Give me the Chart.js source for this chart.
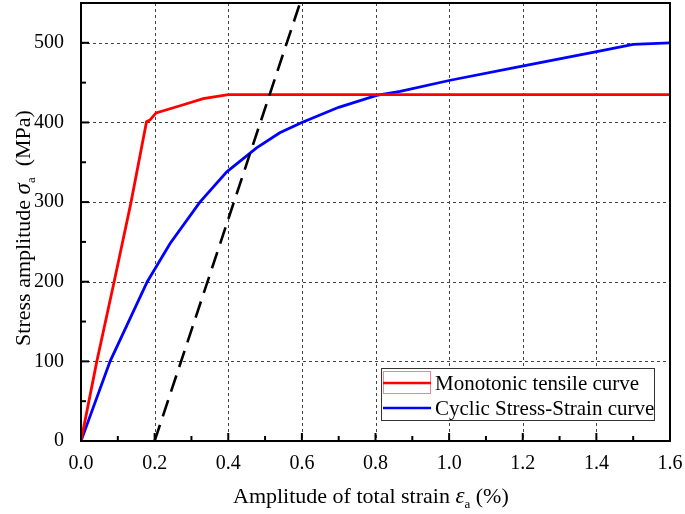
<!DOCTYPE html>
<html>
<head>
<meta charset="utf-8">
<script src="https://cdn.jsdelivr.net/npm/chart.js@4"></script>
<style>
  html, body { margin: 0; padding: 0; background: #fff; }
  #wrap { width: 685px; height: 514px; }
</style>
</head>
<body>
<div id="wrap"><canvas id="chart"></canvas></div>
<script>
// monotonic tensile curve
const monoX = [0, 0.043, 0.090, 0.136, 0.178, 0.187, 0.204, 0.269, 0.332, 0.400, 1.6];
const monoY = [0, 100, 200, 300, 401, 403, 412, 421, 430, 435, 435];

// cyclic stress-strain curve
const cycX = [0, 0.079, 0.180, 0.242, 0.323, 0.396, 0.477, 0.540, 0.600, 0.700, 0.803, 0.867, 1.003, 1.202, 1.401, 1.500, 1.600];
const cycY = [0, 100, 200, 248, 300, 338, 368, 387, 400, 419, 434, 439, 453, 471, 489, 498, 500];

// dashed offset line and the blue stretch along the axis
const dashX = [0.2, 0.595];
const dashY = [0, 550];
const baseX = [0, 0.2];
const baseY = [0, 0];

const xTickValues = [0, 0.2, 0.4, 0.6, 0.8, 1.0, 1.2, 1.4, 1.6];
const yTickValues = [0, 100, 200, 300, 400, 500];
const xMinorValues = [0.1, 0.3, 0.5, 0.7, 0.9, 1.1, 1.3, 1.5];
const yMinorValues = [50, 150, 250, 350, 450];

const legendLabels = ["Monotonic tensile curve", "Cyclic Stress-Strain curve"];

const SERIF = '"Liberation Serif", "Times New Roman", serif';

function pts(xs, ys) {
  return xs.map((v, i) => ({ x: v, y: ys[i] }));
}

const framePlugin = {
  id: "frame",
  beforeDatasetsDraw(chart) {
    const { ctx, chartArea: a, scales } = chart;
    const x = scales.x, y = scales.y;
    ctx.save();
    ctx.strokeStyle = "#444";
    ctx.lineWidth = 1;
    ctx.setLineDash([3, 3]);
    xTickValues.forEach((v) => {
      if (v <= 0 || v >= 1.6) return;
      const px = Math.round(x.getPixelForValue(v)) + 0.5;
      ctx.beginPath();
      ctx.moveTo(px, a.top);
      ctx.lineTo(px, a.bottom);
      ctx.stroke();
    });
    yTickValues.forEach((v) => {
      if (v <= 0) return;
      const py = Math.round(y.getPixelForValue(v)) + 0.5;
      ctx.beginPath();
      ctx.moveTo(a.left, py);
      ctx.lineTo(a.right, py);
      ctx.stroke();
    });
    ctx.restore();
  },
  afterDatasetsDraw(chart) {
    const { ctx, chartArea: a, scales } = chart;
    const x = scales.x, y = scales.y;
    ctx.save();

    // inward ticks
    ctx.strokeStyle = "#000";
    ctx.lineWidth = 2;
    ctx.setLineDash([]);
    const tick = (x1, y1, x2, y2) => {
      ctx.beginPath();
      ctx.moveTo(x1, y1);
      ctx.lineTo(x2, y2);
      ctx.stroke();
    };
    xTickValues.forEach((v) => { const px = x.getPixelForValue(v); tick(px, a.bottom, px, a.bottom - 8); });
    xMinorValues.forEach((v) => { const px = x.getPixelForValue(v); tick(px, a.bottom, px, a.bottom - 5); });
    yTickValues.forEach((v) => { const py = y.getPixelForValue(v); tick(a.left, py, a.left + 8, py); });
    yMinorValues.forEach((v) => { const py = y.getPixelForValue(v); tick(a.left, py, a.left + 5, py); });

    // frame
    ctx.lineWidth = 2;
    ctx.strokeRect(a.left, a.top, a.right - a.left, a.bottom - a.top);

    // legend
    const lx = 381, ly = 368, lw = 273, lh = 52;
    ctx.fillStyle = "#fff";
    ctx.fillRect(lx, ly, lw, lh);
    ctx.strokeStyle = "#333";
    ctx.lineWidth = 1;
    ctx.strokeRect(lx + 0.5, ly + 0.5, lw, lh);
    const ds = chart.data.datasets;
    const rows = [ly + 15, ly + 40];
    ctx.font = "21px " + SERIF;
    ctx.textBaseline = "middle";
    ctx.textAlign = "left";
    legendLabels.forEach((label, i) => {
      const d = ds.find((s) => s.label === label);
      const ry = rows[i];
      if (i === 0) {
        ctx.strokeStyle = "#ff8080";
        ctx.lineWidth = 1;
        ctx.strokeRect(383.5, ry - 11.5, 47, 22);
      }
      ctx.strokeStyle = d.borderColor;
      ctx.lineWidth = 2.5;
      tick(383, ry, 431, ry);
      ctx.fillStyle = "#000";
      ctx.fillText(label, 435, ry + 1);
    });

    // x axis title
    ctx.fillStyle = "#000";
    ctx.textBaseline = "alphabetic";
    let cx = 233;
    const by = 503;
    const part = (txt, font, dy) => {
      ctx.font = font;
      ctx.fillText(txt, cx, by + (dy || 0));
      cx += ctx.measureText(txt).width;
    };
    part("Amplitude of total strain ", "22px " + SERIF);
    part("\u03b5", "italic 23px " + SERIF);
    part("a", "13px " + SERIF, 5);
    part(" (%)", "22px " + SERIF);

    // y axis title (rotated)
    const yParts = [
      ["Stress amplitude ", "22px " + SERIF, 0],
      ["\u03c3", "italic 23px " + SERIF, 0],
      ["a", "13px " + SERIF, 5],
      ["  (MPa)", "22px " + SERIF, 0]
    ];
    let total = 0;
    yParts.forEach((p) => { ctx.font = p[1]; total += ctx.measureText(p[0]).width; });
    ctx.translate(30, 228);
    ctx.rotate(-Math.PI / 2);
    let tx = -total / 2;
    yParts.forEach((p) => {
      ctx.font = p[1];
      ctx.fillText(p[0], tx, p[2]);
      tx += ctx.measureText(p[0]).width;
    });

    ctx.restore();
  }
};

new Chart(document.getElementById("chart"), {
  type: "scatter",
  data: {
    datasets: [
      {
        label: "dashed",
        data: pts(dashX, dashY),
        borderColor: "#000",
        borderWidth: 2.6,
        borderDash: [17, 9],
        showLine: true,
        pointRadius: 0
      },
      {
        label: "base",
        data: pts(baseX, baseY),
        borderColor: "#0000ff",
        borderWidth: 1.5,
        showLine: true,
        pointRadius: 0
      },
      {
        label: legendLabels[0],
        data: pts(monoX, monoY),
        borderColor: "#ff0000",
        borderWidth: 2.8,
        showLine: true,
        pointRadius: 0
      },
      {
        label: legendLabels[1],
        data: pts(cycX, cycY),
        borderColor: "#0000ff",
        borderWidth: 2.8,
        showLine: true,
        pointRadius: 0
      }
    ]
  },
  options: {
    responsive: true,
    maintainAspectRatio: false,
    animation: false,
    layout: { padding: { top: 3, right: 15, left: 0, bottom: 0 } },
    plugins: {
      legend: { display: false },
      tooltip: { enabled: false }
    },
    scales: {
      x: {
        type: "linear",
        min: 0,
        max: 1.6,
        grid: { display: false },
        border: { display: false },
        afterBuildTicks: (s) => { s.ticks = xTickValues.map((v) => ({ value: v })); },
        afterFit: (s) => { s.height = 73; s.paddingLeft = 0; s.paddingRight = 0; },
        ticks: {
          color: "#000",
          padding: 3,
          maxRotation: 0,
          font: { family: SERIF, size: 20 },
          callback: (v) => Number(v).toFixed(1)
        }
      },
      y: {
        type: "linear",
        min: 0,
        max: 550,
        grid: { display: false },
        border: { display: false },
        afterBuildTicks: (s) => { s.ticks = yTickValues.map((v) => ({ value: v })); },
        afterFit: (s) => { s.width = 81; s.paddingTop = 0; s.paddingBottom = 0; },
        ticks: {
          color: "#000",
          padding: 9,
          font: { family: SERIF, size: 20 }
        }
      }
    }
  },
  plugins: [framePlugin]
});
</script>
</body>
</html>
